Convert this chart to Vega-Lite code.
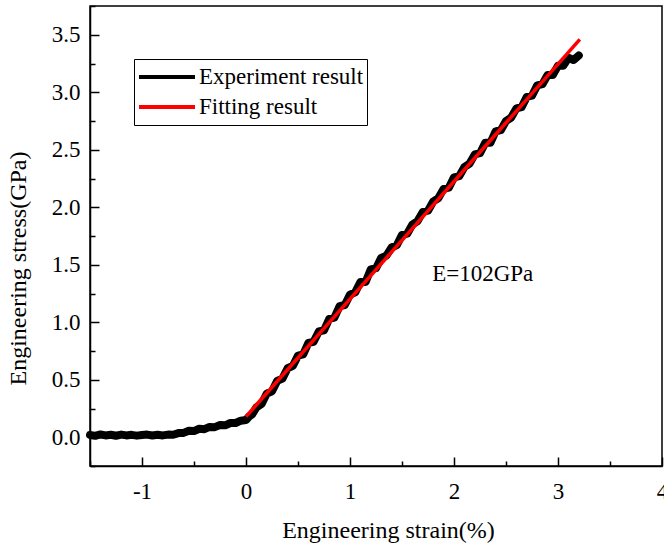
{
  "$schema": "https://vega.github.io/schema/vega-lite/v6.json",
  "autosize": "none",
  "width": 572,
  "height": 460,
  "padding": {"left": 90, "top": 6, "right": 2, "bottom": 81},
  "background": "white",
  "config": {
    "font": "Liberation Serif",
    "view": {"stroke": "black", "strokeWidth": 1.5},
    "axis": {
      "domainColor": "black", "domainWidth": 1.5,
      "tickColor": "black", "tickWidth": 1.5,
      "grid": false,
      "labelFont": "Liberation Serif", "labelFontSize": 23, "labelColor": "black",
      "titleFont": "Liberation Serif", "titleFontSize": 24, "titleFontWeight": "normal", "titleColor": "black"
    },
    "legend": {
      "orient": "none", "legendX": 44, "legendY": 53,
      "strokeColor": "black", "strokeWidth": 1, "fillColor": "white",
      "padding": 3, "symbolType": "stroke", "symbolSize": 3136, "symbolStrokeWidth": 4,
      "labelFont": "Liberation Serif", "labelFontSize": 23, "labelColor": "black", "labelLimit": 0,
      "labelOffset": 2, "clipHeight": 30, "rowPadding": 0
    }
  },
  "datasets": {
    "exp": [
      {"strain": -1.50, "stress": 0.020}, {"strain": -1.45, "stress": 0.012}, {"strain": -1.40, "stress": 0.024},
      {"strain": -1.35, "stress": 0.016}, {"strain": -1.30, "stress": 0.022}, {"strain": -1.25, "stress": 0.013},
      {"strain": -1.20, "stress": 0.023}, {"strain": -1.15, "stress": 0.016}, {"strain": -1.10, "stress": 0.021},
      {"strain": -1.05, "stress": 0.014}, {"strain": -1.00, "stress": 0.020}, {"strain": -0.95, "stress": 0.023},
      {"strain": -0.90, "stress": 0.015}, {"strain": -0.85, "stress": 0.021}, {"strain": -0.80, "stress": 0.016},
      {"strain": -0.75, "stress": 0.023}, {"strain": -0.70, "stress": 0.022}, {"strain": -0.65, "stress": 0.036},
      {"strain": -0.60, "stress": 0.038}, {"strain": -0.55, "stress": 0.056}, {"strain": -0.50, "stress": 0.054},
      {"strain": -0.45, "stress": 0.074}, {"strain": -0.40, "stress": 0.070}, {"strain": -0.35, "stress": 0.090},
      {"strain": -0.30, "stress": 0.088}, {"strain": -0.25, "stress": 0.106}, {"strain": -0.20, "stress": 0.104},
      {"strain": -0.15, "stress": 0.124}, {"strain": -0.10, "stress": 0.124}, {"strain": -0.05, "stress": 0.144},
      {"strain": 0.00, "stress": 0.150}, {"strain": 0.03, "stress": 0.18}, {"strain": 0.06, "stress": 0.20},
      {"strain": 0.10, "stress": 0.26}, {"strain": 0.15, "stress": 0.29}, {"strain": 0.20, "stress": 0.38},
      {"strain": 0.25, "stress": 0.40}, {"strain": 0.30, "stress": 0.49}, {"strain": 0.35, "stress": 0.51},
      {"strain": 0.40, "stress": 0.60}, {"strain": 0.45, "stress": 0.62}, {"strain": 0.50, "stress": 0.71},
      {"strain": 0.55, "stress": 0.72}, {"strain": 0.60, "stress": 0.82}, {"strain": 0.65, "stress": 0.83},
      {"strain": 0.70, "stress": 0.92}, {"strain": 0.75, "stress": 0.93}, {"strain": 0.80, "stress": 1.03},
      {"strain": 0.85, "stress": 1.04}, {"strain": 0.90, "stress": 1.14}, {"strain": 0.95, "stress": 1.15},
      {"strain": 1.00, "stress": 1.24}, {"strain": 1.05, "stress": 1.26}, {"strain": 1.10, "stress": 1.35},
      {"strain": 1.15, "stress": 1.35}, {"strain": 1.20, "stress": 1.46}, {"strain": 1.25, "stress": 1.47},
      {"strain": 1.30, "stress": 1.56}, {"strain": 1.35, "stress": 1.58}, {"strain": 1.40, "stress": 1.65},
      {"strain": 1.45, "stress": 1.67}, {"strain": 1.50, "stress": 1.76}, {"strain": 1.55, "stress": 1.77},
      {"strain": 1.60, "stress": 1.85}, {"strain": 1.65, "stress": 1.88}, {"strain": 1.70, "stress": 1.96},
      {"strain": 1.75, "stress": 1.97}, {"strain": 1.80, "stress": 2.05}, {"strain": 1.85, "stress": 2.08},
      {"strain": 1.90, "stress": 2.16}, {"strain": 1.95, "stress": 2.17}, {"strain": 2.00, "stress": 2.26},
      {"strain": 2.05, "stress": 2.27}, {"strain": 2.10, "stress": 2.35}, {"strain": 2.15, "stress": 2.38},
      {"strain": 2.20, "stress": 2.46}, {"strain": 2.25, "stress": 2.47}, {"strain": 2.30, "stress": 2.56},
      {"strain": 2.35, "stress": 2.56}, {"strain": 2.40, "stress": 2.66}, {"strain": 2.45, "stress": 2.67},
      {"strain": 2.50, "stress": 2.75}, {"strain": 2.55, "stress": 2.78}, {"strain": 2.60, "stress": 2.86},
      {"strain": 2.65, "stress": 2.87}, {"strain": 2.70, "stress": 2.96}, {"strain": 2.75, "stress": 2.97},
      {"strain": 2.80, "stress": 3.06}, {"strain": 2.85, "stress": 3.07}, {"strain": 2.90, "stress": 3.15},
      {"strain": 2.95, "stress": 3.15}, {"strain": 3.00, "stress": 3.23}, {"strain": 3.05, "stress": 3.23},
      {"strain": 3.10, "stress": 3.30}, {"strain": 3.15, "stress": 3.28}, {"strain": 3.20, "stress": 3.32}
    ],
    "fit": [
      {"strain": 0.0, "stress": 0.18},
      {"strain": 3.21, "stress": 3.46}
    ],
    "note": [
      {"strain": 1.79, "stress": 1.42, "label": "E=102GPa"}
    ]
  },
  "encoding": {
    "x": {
      "field": "strain", "type": "quantitative",
      "scale": {"domain": [-1.5, 4], "nice": false, "zero": false},
      "axis": {
        "title": "Engineering strain(%)",
        "values": [-1.5, -1, -0.5, 0, 0.5, 1, 1.5, 2, 2.5, 3, 3.5, 4],
        "labelExpr": "datum.value % 1 === 0 ? toString(datum.value) : ''",
        "tickSize": {"condition": {"test": "datum.value % 1 === 0", "value": -9}, "value": -5},
        "labelPadding": 23,
        "labelFlush": false,
        "titleX": 298, "titleY": 64, "titleBaseline": "middle", "titleAlign": "center"
      }
    },
    "y": {
      "field": "stress", "type": "quantitative",
      "scale": {"domain": [-0.25, 3.75], "nice": false, "zero": false},
      "axis": {
        "title": "Engineering stress(GPa)",
        "values": [-0.25, 0, 0.25, 0.5, 0.75, 1, 1.25, 1.5, 1.75, 2, 2.25, 2.5, 2.75, 3, 3.25, 3.5, 3.75],
        "labelExpr": "datum.value % 0.5 === 0 ? format(datum.value, '.1f') : ''",
        "tickSize": {"condition": {"test": "datum.value % 0.5 === 0", "value": -9}, "value": -5},
        "labelPadding": 19,
        "labelFlush": false,
        "titleX": -72, "titleY": 262, "titleBaseline": "middle", "titleAlign": "center", "titleAngle": -90
      }
    }
  },
  "layer": [
    {
      "data": {"name": "exp"},
      "transform": [{"calculate": "'Experiment result'", "as": "series"}],
      "mark": {"type": "line", "strokeWidth": 8, "strokeJoin": "round", "strokeCap": "round"},
      "encoding": {
        "color": {
          "field": "series", "type": "nominal",
          "scale": {"domain": ["Experiment result", "Fitting result"], "range": ["black", "red"]},
          "legend": {"title": null}
        }
      }
    },
    {
      "data": {"name": "fit"},
      "transform": [{"calculate": "'Fitting result'", "as": "series"}],
      "mark": {"type": "line", "strokeWidth": 3.5},
      "encoding": {
        "color": {"field": "series", "type": "nominal"}
      }
    },
    {
      "data": {"name": "note"},
      "mark": {"type": "text", "align": "left", "baseline": "middle", "fontSize": 23, "font": "Liberation Serif", "color": "black"},
      "encoding": {"text": {"field": "label"}}
    }
  ]
}
